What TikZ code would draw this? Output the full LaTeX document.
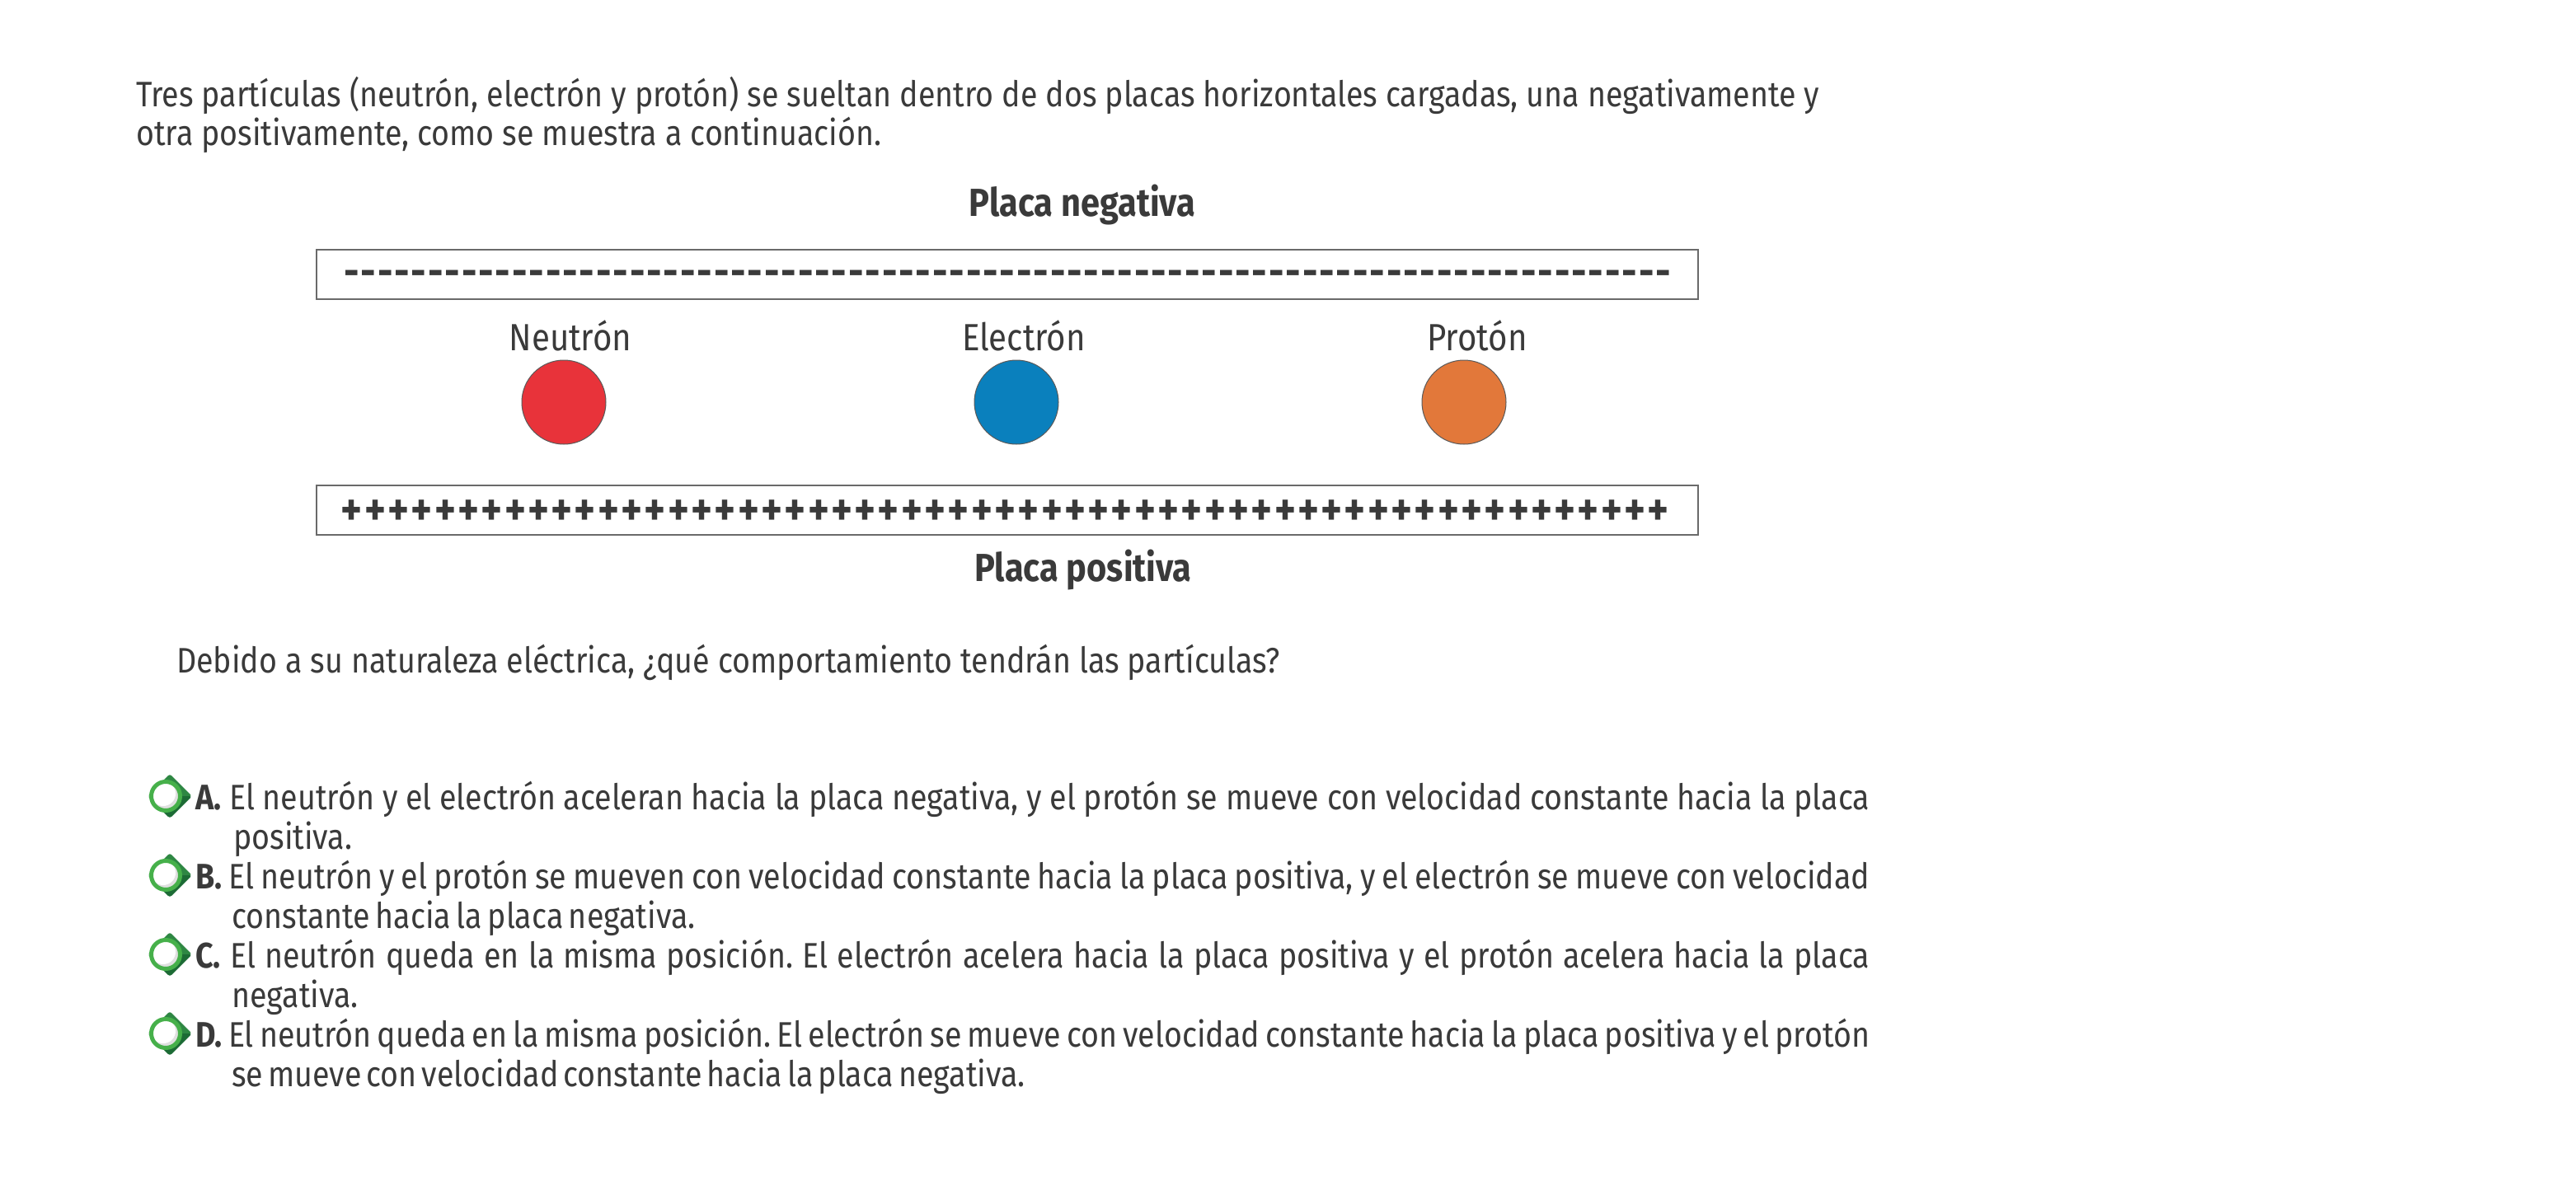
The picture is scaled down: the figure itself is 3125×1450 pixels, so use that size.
\documentclass[tikz,border=0pt]{standalone}
\usepackage{fontspec}
\setmainfont[FakeStretch=0.875]{Fira Sans}
\definecolor{textgray}{HTML}{3A3A3A}
\definecolor{platedraw}{HTML}{6A6A6A}
\definecolor{neutronred}{HTML}{E8333A}
\definecolor{electronblue}{HTML}{0A80BD}
\definecolor{protonorange}{HTML}{E2783A}
\definecolor{ringgreen}{HTML}{46B04A}
\definecolor{diamondtop}{HTML}{2E8743}
\definecolor{diamondbot}{HTML}{1C6B35}
\tikzset{
  txt/.style={anchor=base west, inner sep=0pt, text=textgray, font=\fontsize{43}{48}\selectfont},
  ctxt/.style={anchor=base, inner sep=0pt, text=textgray, font=\fontsize{46}{50}\selectfont},
  platetitle/.style={anchor=base, inner sep=0pt, text=textgray, font=\fontsize{47.5}{50}\selectfont\bfseries},
  plate/.style={draw=platedraw, line width=1.6pt, fill=white},
  particle/.style={circle, draw=black!65, line width=1pt, minimum size=102pt, inner sep=0pt},
  minusch/.style={anchor=base, inner sep=0pt, text=textgray, font=\fontsize{52}{52}\selectfont\bfseries},
  plusch/.style={anchor=base, inner sep=0pt, text=textgray, font=\fontsize{56}{56}\selectfont\bfseries},
  option/.style={anchor=base west, inner sep=0pt, text=textgray, font=\fontsize{43}{48}\selectfont},
  opticon/.pic={
    \fill[diamondtop, rounded corners=3pt] (-22,0) -- (5,-27) -- (32,0) -- cycle;
    \fill[diamondbot, rounded corners=3pt] (-22,0) -- (5,27) -- (32,0) -- cycle;
    \fill[white] (0,0) circle (18);
    \begin{scope}
      \clip (0,0) circle (16);
      \fill[black!12] (0,0) circle (16);
      \fill[white] (-3,-3) circle (15);
    \end{scope}
    \draw[ringgreen, line width=5pt] (0,0) circle (17.5);
  }
}
\begin{document}
\begin{tikzpicture}[x=1pt,y=-1pt]
\frenchspacing
\useasboundingbox (0,0) rectangle (3125,1450);
\fill[white] (0,0) rectangle (3125,1450);

% intro
\node[txt] (intro1) at (165,130) {Tres partículas (neutrón, electrón y protón) se sueltan dentro de dos placas horizontales cargadas, una negativamente y};
\node[txt] (intro2) at (165,177) {otra positivamente, como se muestra a continuación.};

% plates
\node[platetitle] (negtitle) at (1313,262) {Placa negativa};
\draw[plate] (384,303) rectangle (2060,363);
\foreach \i in {0,...,78} \node[minusch] at ({426.5+\i*20.4},347) {-};

\draw[plate] (384,589) rectangle (2060,649);
\foreach \i in {0,...,56} \node[plusch] at ({427+\i*28.3},637) {+};
\node[platetitle] (postitle) at (1314,705) {Placa positiva};

% particles
\node[ctxt] (neutronlabel) at (692,425) {Neutrón};
\node[ctxt] (electronlabel) at (1242,425) {Electrón};
\node[ctxt] (protonlabel) at (1792,425) {Protón};
\node[particle, fill=neutronred] (neutron) at (684,488) {};
\node[particle, fill=electronblue] (electron) at (1233,488) {};
\node[particle, fill=protonorange] (proton) at (1776,488) {};

% question
\node[txt] (question) at (214,816) {Debido a su naturaleza eléctrica, ¿qué comportamiento tendrán las partículas?};

% options
\pic at (201,966) {opticon};
\pic at (201,1062) {opticon};
\pic at (201,1158) {opticon};
\pic at (201,1254) {opticon};

\node[option] (optA) at (237,982) {\parbox[t]{2031pt}{\frenchspacing\hangindent=46pt\hangafter=1\noindent\textbf{A.} El neutrón y el electrón aceleran hacia la placa negativa, y el protón se mueve con velocidad constante hacia la placa\linebreak positiva.}};
\node[option] (optB) at (237,1078) {\parbox[t]{2031pt}{\frenchspacing\spaceskip=6.5pt plus 20pt minus 2pt\hangindent=44pt\hangafter=1\noindent\textbf{B.} El neutrón y el protón se mueven con velocidad constante hacia la placa positiva, y el electrón se mueve con velocidad\linebreak constante hacia la placa negativa.}};
\node[option] (optC) at (237,1174) {\parbox[t]{2031pt}{\frenchspacing\hangindent=44pt\hangafter=1\noindent\textbf{C.} El neutrón queda en la misma posición. El electrón acelera hacia la placa positiva y el protón acelera hacia la placa\linebreak negativa.}};
\node[option] (optD) at (237,1270) {\parbox[t]{2031pt}{\frenchspacing\spaceskip=6pt plus 20pt minus 2pt\hangindent=44pt\hangafter=1\noindent\textbf{D.} El neutrón queda en la misma posición. El electrón se mueve con velocidad constante hacia la placa positiva y el protón\linebreak se mueve con velocidad constante hacia la placa negativa.}};
\end{tikzpicture}
\end{document}
